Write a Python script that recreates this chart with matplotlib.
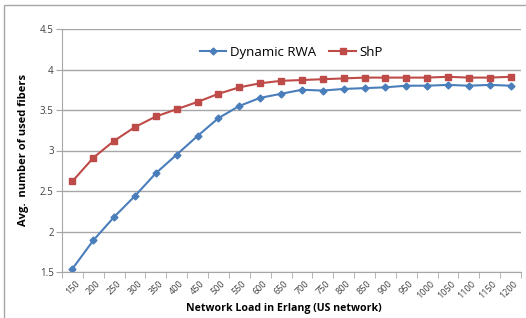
import matplotlib
matplotlib.use("Agg")
import matplotlib.pyplot as plt
from matplotlib.patches import Rectangle

loads = ["150", "200", "250", "300", "350", "400", "450", "500", "550", "600", "650",
         "700", "750", "800", "850", "900", "950", "1000", "1050", "1100", "1150", "1200"]
dynamic_rwa = [1.54, 1.89, 2.18, 2.44, 2.72, 2.95, 3.18, 3.40, 3.55, 3.65, 3.70,
               3.75, 3.74, 3.76, 3.77, 3.78, 3.80, 3.80, 3.81, 3.80, 3.81, 3.80]
shp = [2.62, 2.91, 3.12, 3.29, 3.42, 3.51, 3.60, 3.70, 3.78, 3.83, 3.86,
       3.87, 3.88, 3.89, 3.90, 3.90, 3.90, 3.90, 3.91, 3.90, 3.90, 3.91]
yticks = [1.5, 2, 2.5, 3, 3.5, 4, 4.5]

W, H = 526, 318
fig = plt.figure(figsize=(W / 100, H / 100), dpi=100)
plt.rcParams['font.family'] = ['Open Sans', 'DejaVu Sans']

# outer chart border (only left and top visible, as in the cropped original)
fig.patches.append(Rectangle((4 / W, -0.05), 1.2, 1 - 4.5 / H + 0.05, transform=fig.transFigure,
                             fill=False, edgecolor='#a6a6a6', linewidth=1.0))

left, right, top, bottom = 62, 521, 29, 272
ax = fig.add_axes([left / W, 1 - bottom / H, (right - left) / W, (bottom - top) / H])

x = list(range(len(loads)))
ax.plot(x, dynamic_rwa, color='#4A7EBB', marker='D', markersize=3.5, linewidth=1.5,
        label='Dynamic RWA')
ax.plot(x, shp, color='#BE4B48', marker='s', markersize=5, linewidth=1.5, label='ShP')

ax.set_xlim(-0.5, len(loads) - 0.5)
ax.set_ylim(1.5, 4.5)
ax.set_yticks(yticks)
ax.set_yticklabels(["1.5", "2", "2.5", "3", "3.5", "4", "4.5"], fontsize=7, color='#404040')
ax.yaxis.grid(True, color='#a6a6a6', linewidth=1.0)
ax.set_axisbelow(True)

ax.set_xticks([i + 0.12 for i in x])
ax.set_xticklabels(loads, rotation=45, fontsize=6.5, ha='right', va='top', color='#404040',
                   rotation_mode='anchor')
ax.tick_params(axis='x', length=0, pad=5)
# category boundary ticks
ax.set_xticks([i - 0.5 for i in range(len(loads) + 1)], minor=True)
ax.tick_params(axis='x', which='minor', length=4, color='#a6a6a6')
ax.tick_params(axis='y', length=4, color='#a6a6a6', pad=2)

for s in ['top', 'right']:
    ax.spines[s].set_visible(False)
ax.spines['left'].set_color('#a6a6a6')
ax.spines['bottom'].set_color('#a6a6a6')

fig.text(284 / W, 1 - 308.5 / H, 'Network Load in Erlang (US network)', fontsize=7.6,
         fontweight='bold', ha='center', va='center')
ax.set_ylabel('Avg.  number of used fibers', fontsize=8, fontweight='bold', labelpad=8)

ax.legend(loc='upper center', bbox_to_anchor=(0.5, 0.98), ncol=2, frameon=False,
          fontsize=9.5, handlelength=2.0, columnspacing=1.0, handletextpad=0.3)

fig.savefig('out.png', dpi=100)
